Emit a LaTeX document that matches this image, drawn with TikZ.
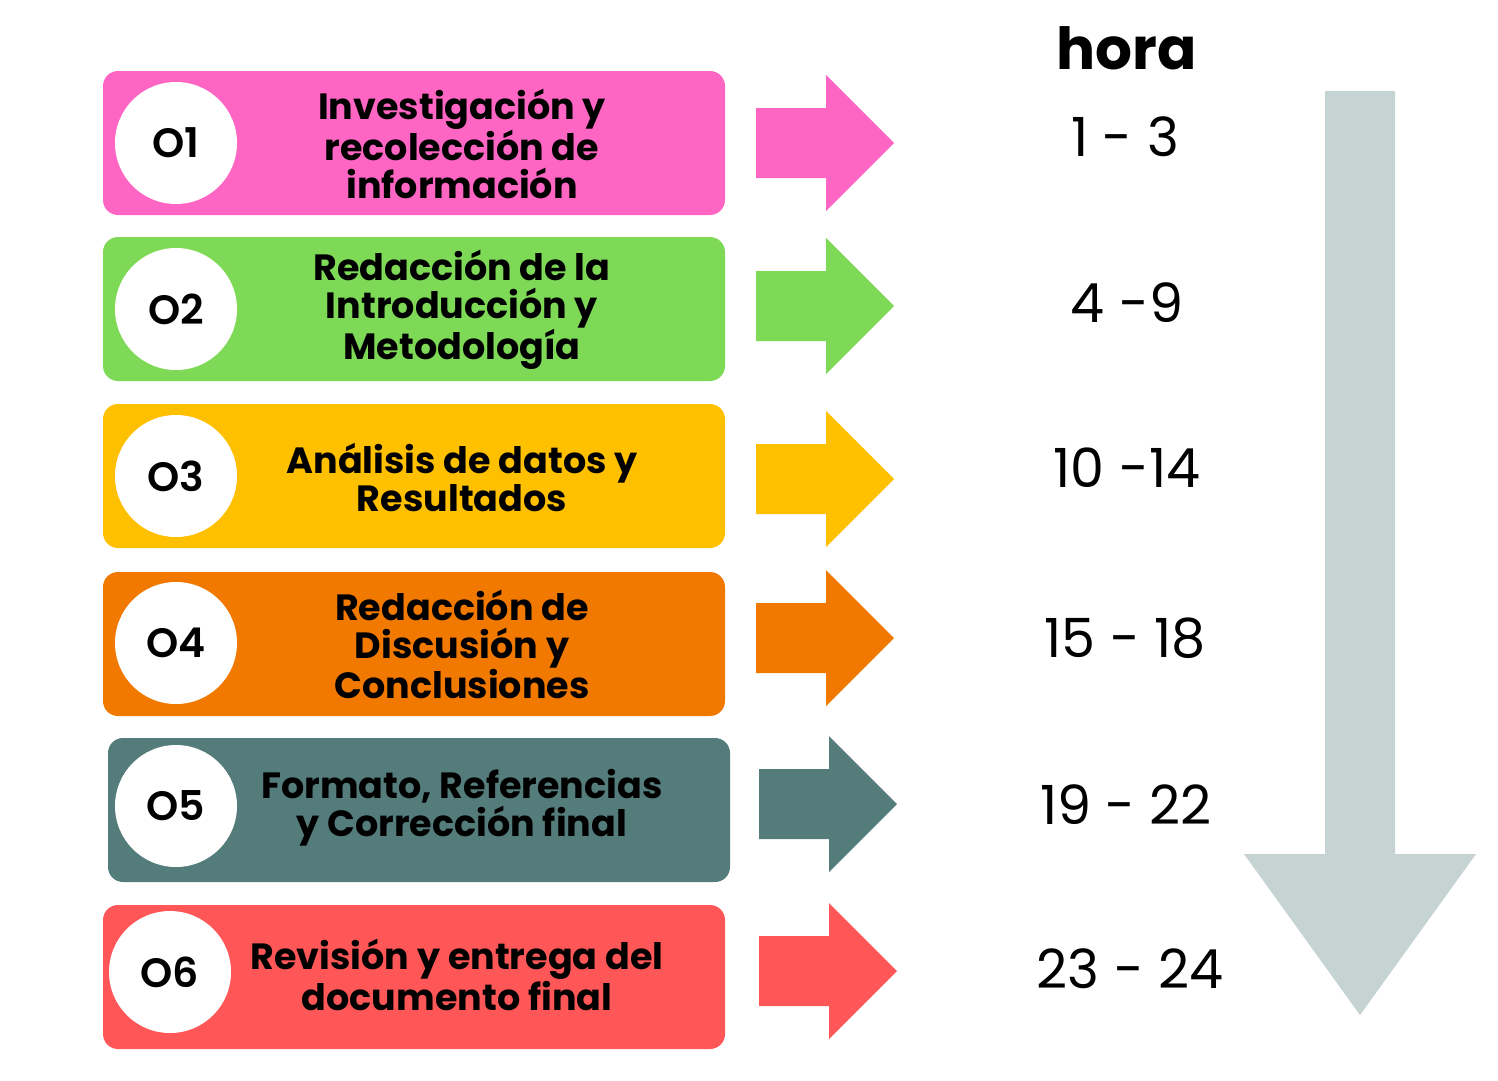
\documentclass[tikz,border=0pt]{standalone}
\usepackage{fontspec}
\setmainfont{Poppins}
\newfontfamily\medfont{Poppins SemiBold}
\definecolor{pinkstep}{HTML}{FF66C4}
\definecolor{greenstep}{HTML}{7ED957}
\definecolor{yellowstep}{HTML}{FFC000}
\definecolor{orangestep}{HTML}{F27900}
\definecolor{tealstep}{HTML}{547C7B}
\definecolor{redstep}{HTML}{FF5757}
\definecolor{timegray}{HTML}{C5D3D2}

\begin{document}
\begin{tikzpicture}[x=1pt,y=-1pt,
 stepbox/.style = {rectangle, rounded corners=15pt, minimum width=622pt, minimum height=144pt, inner sep=0pt},
 badge/.style = {circle, fill=white, minimum size=122pt, inner sep=0pt, font=\medfont\fontsize{41}{41}\selectfont},
 tasktext/.style = {align=center, inner sep=0pt, font=\bfseries\fontsize{36.5}{38}\selectfont},
 hours/.style = {inner sep=0pt, font=\fontsize{54}{54}\selectfont}]
 \useasboundingbox (0,0) rectangle (1498,1080);
 % step boxes
 \node [stepbox, fill=pinkstep]   (box1) at (414,143) {};
 \node [stepbox, fill=greenstep]  (box2) at (414,309) {};
 \node [stepbox, fill=yellowstep] (box3) at (414,476) {};
 \node [stepbox, fill=orangestep] (box4) at (414,644) {};
 \node [stepbox, fill=tealstep]   (box5) at (419,810) {};
 \node [stepbox, fill=redstep]    (box6) at (414,977) {};
 \node [badge] (badge1) at (176,143) {O1};
 \node [badge] (badge2) at (176,309) {O2};
 \node [badge] (badge3) at (176,476) {O3};
 \node [badge] (badge4) at (176,643) {O4};
 \node [badge] (badge5) at (176,806) {O5};
 \node [badge] (badge6) at (170,972) {O6};
 \node [tasktext] (task1) at (462,144) {Investigación y\\recolección de\\información};
 \node [tasktext] (task2) at (462,310) {Redacción de la\\Introducción y\\Metodología};
 \node [tasktext] (task3) at (462,477) {Análisis de datos y\\Resultados};
 \node [tasktext] (task4) at (462,644) {Redacción de\\Discusión y\\Conclusiones};
 \node [tasktext] (task5) at (462,808) {Formato, Referencias\\y Corrección final};
 \node [tasktext] (task6) at (457,975) {Revisión y entrega del\\documento final};
 % arrows to the hours
 \foreach \c/\x/\y in {pinkstep/756/143, greenstep/756/306, yellowstep/756/479,
                       orangestep/756/638, tealstep/759/804, redstep/759/971}
   \fill [\c] (\x,\y) ++(0,-35) -- ++(70,0) -- ++(0,-33) -- ++(68,68)
     -- ++(-68,68) -- ++(0,-33) -- ++(-70,0) -- cycle;
 \node [inner sep=0pt, font=\bfseries\fontsize{58}{58}\selectfont] (hora) at (1127,48) {hora};
 \node [hours] (hour1) at (1125,137) {1 - 3};
 \node [hours] (hour2) at (1127,303) {4 -9};
 \node [hours] (hour3) at (1127,468) {10 -14};
 \node [hours] (hour4) at (1125,638) {15 - 18};
 \node [hours] (hour5) at (1126,805) {19 - 22};
 \node [hours] (hour6) at (1130,969) {23 - 24};
 \fill [timegray] (1325,91) -- (1395,91) -- (1395,854) -- (1476,854)
   -- (1360,1015) -- (1244,854) -- (1325,854) -- cycle;
\end{tikzpicture}
\end{document}
